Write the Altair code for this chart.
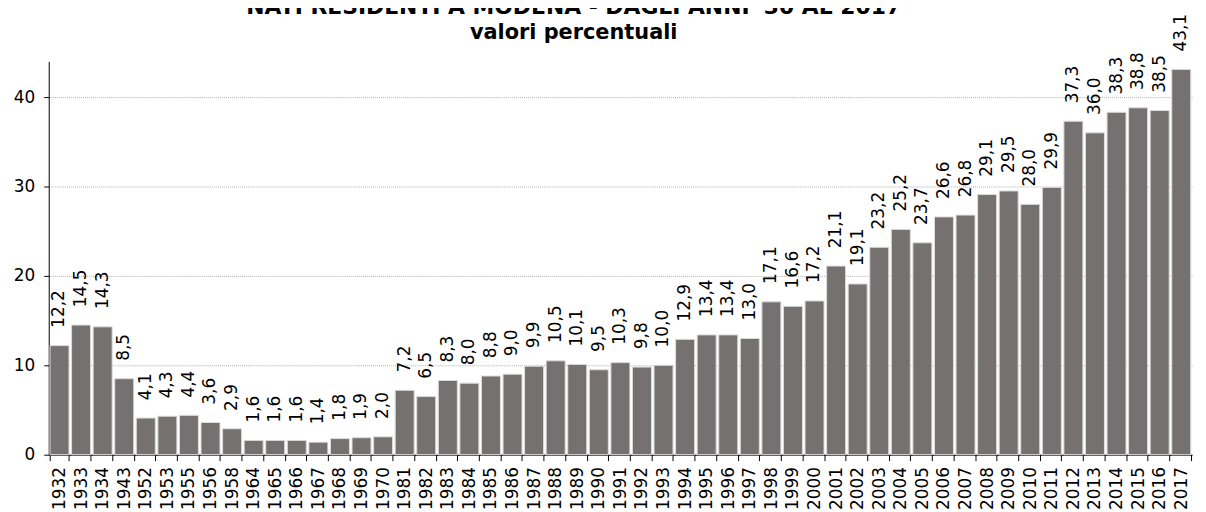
import altair as alt
import pandas as pd

years = ["1932", "1933", "1934", "1943", "1952", "1953", "1955", "1956", "1958",
         "1964", "1965", "1966", "1967", "1968", "1969", "1970", "1981", "1982",
         "1983", "1984", "1985", "1986", "1987", "1988", "1989", "1990", "1991",
         "1992", "1993", "1994", "1995", "1996", "1997", "1998", "1999", "2000",
         "2001", "2002", "2003", "2004", "2005", "2006", "2007", "2008", "2009",
         "2010", "2011", "2012", "2013", "2014", "2015", "2016", "2017"]
values = [12.2, 14.5, 14.3, 8.5, 4.1, 4.3, 4.4, 3.6, 2.9,
          1.6, 1.6, 1.6, 1.4, 1.8, 1.9, 2.0, 7.2, 6.5,
          8.3, 8.0, 8.8, 9.0, 9.9, 10.5, 10.1, 9.5, 10.3,
          9.8, 10.0, 12.9, 13.4, 13.4, 13.0, 17.1, 16.6, 17.2,
          21.1, 19.1, 23.2, 25.2, 23.7, 26.6, 26.8, 29.1, 29.5,
          28.0, 29.9, 37.3, 36.0, 38.3, 38.8, 38.5, 43.1]
y_ticks = [0, 10, 20, 30, 40]

title_text = "NATI RESIDENTI A MODENA - DAGLI ANNI '30 AL 2017"
subtitle_text = "valori percentuali"

df = pd.DataFrame({"anno": years, "valore": values})

FONT = "DejaVu Sans"

x_enc = alt.X("anno:N", sort=None, title=None,
              scale=alt.Scale(paddingInner=0.12, paddingOuter=0.06),
              axis=alt.Axis(labelAngle=-90, labelFontSize=17, labelFont=FONT,
                            labelColor="#000000", domainColor="#000000",
                            tickColor="#000000", tickSize=6, tickBand="extent",
                            labelPadding=6, grid=False))
y_enc = alt.Y("valore:Q", title=None,
              scale=alt.Scale(domain=[0, 44], nice=False),
              axis=alt.Axis(values=y_ticks, labelFontSize=17, labelFont=FONT,
                            labelColor="#000000", domainColor="#000000",
                            tickColor="#000000", tickSize=5, labelPadding=9,
                            grid=True, gridColor="#b0b0b0", gridDash=[1, 1],
                            gridWidth=1))

base = alt.Chart(df).encode(x=x_enc, y=y_enc)

bars = base.mark_bar(color="#767171", stroke="#dcdcdc", strokeWidth=1)

labels = base.mark_text(angle=270, align="left", baseline="middle", dx=18,
                        fontSize=17, font=FONT, color="#000000").transform_calculate(
    label="replace(format(datum.valore, '.1f'), '.', ',')"
).encode(text="label:N")

chart = (bars + labels).properties(
    width=1151,
    height=396,
    autosize=alt.AutoSizeParams(type="none"),
    padding={"left": 41, "top": 52, "right": 6, "bottom": 56},
    title=alt.Title(text=title_text, subtitle=subtitle_text, font=FONT,
                    subtitleFont=FONT, fontSize=22, subtitleFontSize=21,
                    fontWeight="bold", subtitleFontWeight="bold",
                    color="#000000", subtitleColor="#000000",
                    anchor="middle", frame="group", dx=-47, offset=-30,
                    subtitlePadding=3),
).configure_view(stroke=None).configure_axis(domainWidth=1)

chart.save("out.html", embed_options={"renderer": "svg", "actions": False})
